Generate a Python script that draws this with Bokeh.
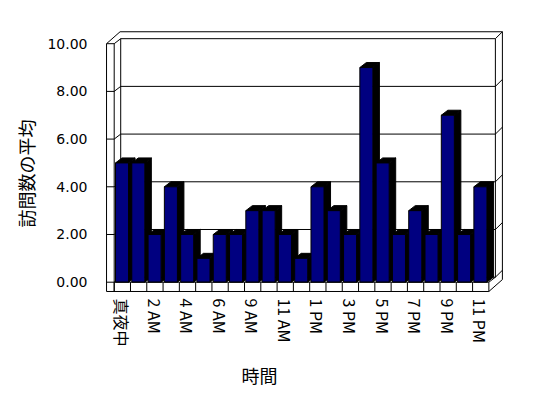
import math
from bokeh.plotting import figure
from bokeh.models import Range1d, FixedTicker, PrintfTickFormatter, LinearAxis
from bokeh.embed import file_html
from bokeh.resources import INLINE

# ---- data ----
hours = ["真夜中", "1 AM", "2 AM", "3 AM", "4 AM", "5 AM", "6 AM", "7 AM",
         "9 AM", "10 AM", "11 AM", "12 PM", "1 PM", "2 PM", "3 PM", "4 PM",
         "5 PM", "6 PM", "7 PM", "8 PM", "9 PM", "10 PM", "11 PM"]
visits = [5, 5, 2, 4, 2, 1, 2, 2, 3, 3, 2, 1, 4, 3, 2, 9, 5, 2, 3, 2, 7, 2, 4]
y_ticks = [0, 2, 4, 6, 8, 10]
x_title = "時間"
y_title = "訪問数の平均"

n = len(visits)
ymax = y_ticks[-1]

# ---- 3D styling constants (data units) ----
FACE_L, FACE_R = 0.08, 0.88      # bar front face within category
DX, DY = 0.40, 0.21              # inner depth (bars, back wall)
OX, OY = 0.83, 0.50              # outer depth (wall thickness)
WALL_X = -0.47                   # left wall front outer edge
FLOOR_Y = -0.39                  # floor front bottom edge
XT_POS, YT_POS = 8.92, 4.56      # axis-title anchor positions

p = figure(width=540, height=390, output_backend="svg", toolbar_location=None,
           x_range=Range1d(-0.534, 23.898), y_range=Range1d(-0.432, 10.553),
           min_border_left=105, min_border_right=37, min_border_top=30,
           min_border_bottom=98)
p.outline_line_color = None
p.xgrid.visible = False
p.ygrid.visible = False
p.background_fill_color = "white"
p.border_fill_color = "white"

LW = 1
black = "black"

# walls and gridlines (behind bars)
bx0, by0, bx1, by1 = [], [], [], []
def seg(a, b, c, d):
    bx0.append(a); by0.append(b); bx1.append(c); by1.append(d)

for v in y_ticks:
    seg(DX, v + DY, n + DX, v + DY)            # back wall gridline
    seg(0, v, DX, v + DY)                      # left wall gridline
    seg(n + DX, v + DY, n + OX, v + OY)        # right wall edge tick
    seg(WALL_X, v, 0, v)                       # tick on left wall front
seg(WALL_X, FLOOR_Y, WALL_X, ymax)             # left wall outer front edge
seg(0, FLOOR_Y, 0, ymax)                       # left wall inner front edge
seg(WALL_X, ymax, WALL_X + OX, ymax + OY)      # left wall top diagonal
seg(WALL_X + OX, ymax + OY, n + OX, ymax + OY) # top outer edge
seg(DX, DY, DX, ymax + DY)                     # back wall left edge
seg(n + DX, DY, n + DX, ymax + DY)             # back wall right inner edge
seg(n + OX, FLOOR_Y + OY, n + OX, ymax + OY)   # right outer edge
p.segment(x0=bx0, y0=by0, x1=bx1, y1=by1, line_color=black, line_width=LW)

# bars: sides & tops (black) then fronts
xl = [i + FACE_L for i in range(n)]
xr = [i + FACE_R for i in range(n)]
pxs, pys = [], []
for l, r, v in zip(xl, xr, visits):
    pxs.append([r, r + DX, r + DX, r]); pys.append([0, DY, v + DY, v])
    pxs.append([l, l + DX, r + DX, r]); pys.append([v, v + DY, v + DY, v])
p.patches(xs=pxs, ys=pys, fill_color=black, line_color=black, line_width=LW)
p.quad(left=xl, right=xr, bottom=0, top=visits, fill_color="#000080",
       line_color=black, line_width=LW)

# floor front face (in front of bars)
fx0, fy0, fx1, fy1 = [], [], [], []
def fseg(a, b, c, d):
    fx0.append(a); fy0.append(b); fx1.append(c); fy1.append(d)
fseg(0, 0, n, 0)
fseg(WALL_X, FLOOR_Y, n, FLOOR_Y)
for k in range(n + 1):
    fseg(k, FLOOR_Y, k, 0)
fseg(n, 0, n + DX, DY)
fseg(n, FLOOR_Y, n + OX, FLOOR_Y + OY)
p.segment(x0=fx0, y0=fy0, x1=fx1, y1=fy1, line_color=black, line_width=LW)

# axes
NFONT = "DejaVu Sans"
CFONT = "Noto Sans CJK JP"

def plain(ax):
    ax.axis_line_color = None
    ax.major_tick_line_color = None
    ax.minor_tick_line_color = None
    ax.major_label_text_color = black

p.yaxis.ticker = FixedTicker(ticks=y_ticks)
p.yaxis.formatter = PrintfTickFormatter(format="%.2f")
plain(p.yaxis[0])
p.yaxis.major_label_standoff = 12
p.yaxis.major_label_text_font = NFONT
p.yaxis.major_label_text_font_size = "14px"

label_idx = list(range(0, n, 2))
p.xaxis.ticker = FixedTicker(ticks=[i + 0.48 for i in label_idx])
p.xaxis.major_label_overrides = {i + 0.48: hours[i] for i in label_idx}
p.xaxis.major_label_orientation = "vertical"
plain(p.xaxis[0])
p.xaxis.major_label_standoff = 0
p.xaxis.major_label_text_font = CFONT
p.xaxis.major_label_text_font_size = "16px"

# axis titles, placed as single-tick axes so they can sit off-centre
xt = LinearAxis(ticker=FixedTicker(ticks=[XT_POS]),
                major_label_overrides={XT_POS: x_title})
plain(xt)
xt.major_label_standoff = 6
xt.major_label_text_font = CFONT
xt.major_label_text_font_size = "18px"
p.add_layout(xt, "below")

yt = LinearAxis(ticker=FixedTicker(ticks=[YT_POS]),
                major_label_overrides={YT_POS: y_title},
                major_label_orientation="vertical")
plain(yt)
yt.major_label_standoff = -1
yt.major_label_text_font = CFONT
yt.major_label_text_font_size = "18px"
p.add_layout(yt, "left")

open("out.html", "w").write(file_html(p, INLINE))
